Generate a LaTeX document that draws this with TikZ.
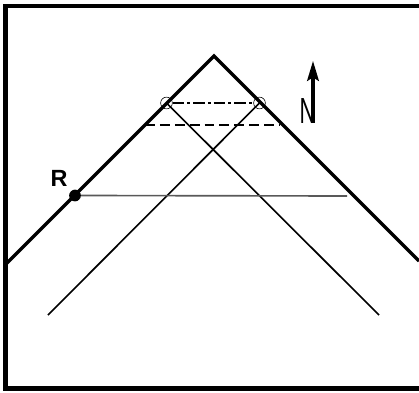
\documentclass[tikz,border=0pt]{standalone}
\usepackage{fontspec}
\setsansfont{Liberation Sans}
\usetikzlibrary{arrows.meta}

\begin{document}
\begin{tikzpicture}[
    x=0.03cm, y=-0.03cm,
    frame/.style={line width=3.5pt},
    road/.style={line width=2.9pt},
    ray/.style={line width=1.4pt},
    level/.style={line width=1.4pt, draw=black!65},
    ring/.style={circle, draw, line width=0.5pt, inner sep=0pt, minimum size=10pt},
    dot/.style={circle, fill=black, inner sep=0pt, minimum size=10pt}
]
\useasboundingbox (0,0) rectangle (419,393);

% Frame (right side is cut off)
\draw[frame] (419,6) -- (5.5,6) -- (5.5,388.5) -- (419,388.5);

% Points
\coordinate (peak) at (214,56);
\coordinate (leftend) at (5.5,264.5);
\coordinate (rightend) at (419,261);
\coordinate (lowR) at (379,315);
\coordinate (lowL) at (48,315);
\coordinate (dashL) at (145,125);
\coordinate (dashR) at (279,125);
\coordinate (levelR) at (347,196);

% Outer lines
\draw[road] (leftend) -- (peak) -- (rightend);

% Crossing rays from the two marks
\node[ring] (C1) at (166.5,103) {};
\node[ring] (C2) at (259.5,103) {};
\draw[ray] (C1.center) -- (lowR);
\draw[ray] (C2.center) -- (lowL);

% Horizontal lines
\draw[line width=1.9pt, dash pattern=on 10pt off 2.5pt on 2.5pt off 2.5pt] (C1) -- (C2);
\draw[line width=1.9pt, dash pattern=on 8.5pt off 4.2pt] (dashL) -- (dashR);

\node[dot] (R) at (75,195.5) {};
\draw[level] (R) ++(6,0) coordinate (levelL) -- (levelR);
\node[font=\sffamily\bfseries\fontsize{20}{24}\selectfont, inner sep=0pt] (Rlabel) at (59,178) {R};

% North arrow
\node[font=\sffamily\fontsize{31}{36}\selectfont, xscale=0.6, inner sep=0pt] (north) at (307.5,111) {N};
\coordinate (tip) at (313,61);
\draw[line width=2.6pt, -{Stealth[length=17pt, width=10pt, inset=3pt]}] (313,123) -- (tip);

\end{tikzpicture}
\end{document}
